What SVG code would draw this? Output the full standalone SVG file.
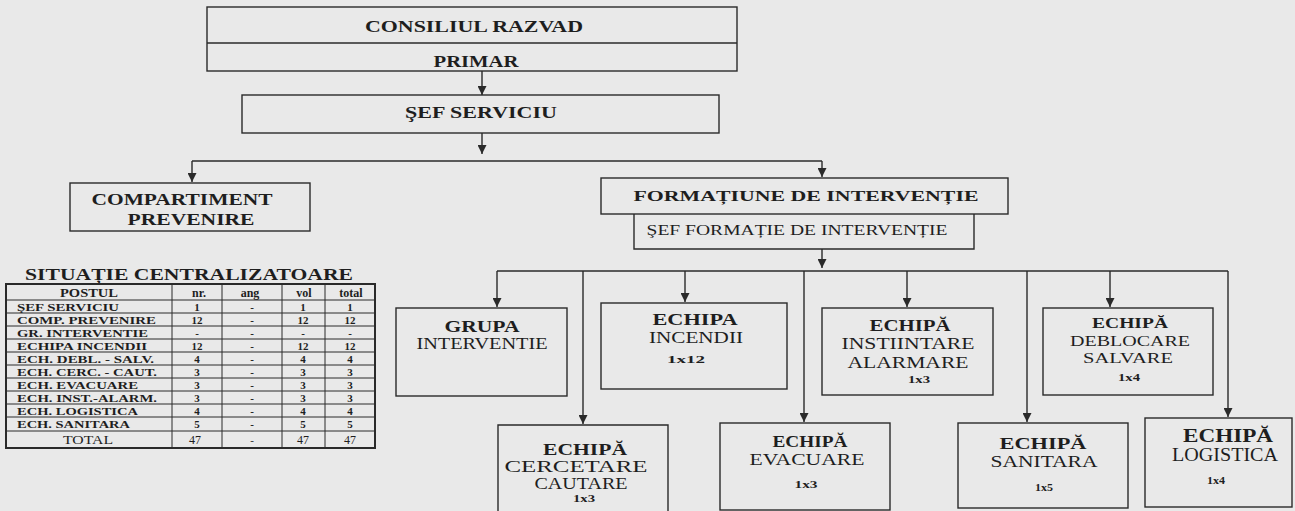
<svg xmlns="http://www.w3.org/2000/svg" width="1295" height="511" viewBox="0 0 1295 511" font-family="'Times New Roman', 'Liberation Serif', 'DejaVu Serif', serif">
<style>
  .bg { fill: #e9e9e9; }
  .box { fill: none; stroke: #2a2a2a; stroke-width: 1.4; }
  .con { fill: none; stroke: #2a2a2a; stroke-width: 1.4; }
  text { font-family: 'Times New Roman', 'Liberation Serif', 'DejaVu Serif', serif; fill: #1e1e1e; text-anchor: middle; }
  .b { font-weight: bold; }
  .sm { font-size: 11px; font-weight: bold; }
  .tl { text-anchor: start; }
  .grid { stroke: #2a2a2a; stroke-width: 1; fill: none; }
</style>
<defs>
  <marker id="arr" viewBox="0 0 10 10" refX="10" refY="5" markerWidth="9" markerHeight="9" markerUnits="userSpaceOnUse" orient="auto">
    <path d="M0,0 L10,5 L0,10 z" fill="#2a2a2a"/>
  </marker>
</defs>
<rect class="bg" x="0" y="0" width="1295" height="511"/>

<g id="connectors">
  <path class="con" d="M482,71 V95" marker-end="url(#arr)"/>
  <path class="con" d="M482,133 V154" marker-end="url(#arr)"/>
  <path class="con" d="M192,161 H822"/>
  <path class="con" d="M192,161 V182" marker-end="url(#arr)"/>
  <path class="con" d="M822,161 V177" marker-end="url(#arr)"/>
  <path class="con" d="M822,249 V268" marker-end="url(#arr)"/>
  <path class="con" d="M497,271 H1228"/>
  <path class="con" d="M497,271 V307" marker-end="url(#arr)"/>
  <path class="con" d="M583,271 V424" marker-end="url(#arr)"/>
  <path class="con" d="M685,271 V302" marker-end="url(#arr)"/>
  <path class="con" d="M804,271 V422" marker-end="url(#arr)"/>
  <path class="con" d="M907,271 V307" marker-end="url(#arr)"/>
  <path class="con" d="M1027,271 V422" marker-end="url(#arr)"/>
  <path class="con" d="M1110,271 V307" marker-end="url(#arr)"/>
  <path class="con" d="M1228,271 V417" marker-end="url(#arr)"/>
</g>

<g id="consiliul">
  <rect class="box" x="207" y="7" width="530" height="64"/>
  <line class="con" x1="207" y1="43" x2="737" y2="43"/>
  <text class="b" x="474" y="32" font-size="17" textLength="218" lengthAdjust="spacingAndGlyphs">CONSILIUL RAZVAD</text>
  <text class="b" x="476" y="67" font-size="17" textLength="85" lengthAdjust="spacingAndGlyphs">PRIMAR</text>
</g>

<g id="sef-serviciu">
  <rect class="box" x="242" y="95" width="477" height="38"/>
  <text class="b" x="481" y="118" font-size="17" textLength="152" lengthAdjust="spacingAndGlyphs">ŞEF SERVICIU</text>
</g>

<g id="compartiment">
  <rect class="box" x="70" y="183" width="240" height="48"/>
  <text class="b" x="182" y="205" font-size="17" textLength="181" lengthAdjust="spacingAndGlyphs">COMPARTIMENT</text>
  <text class="b" x="191" y="225" font-size="17" textLength="127" lengthAdjust="spacingAndGlyphs">PREVENIRE</text>
</g>

<g id="formatiune">
  <rect class="box" x="601" y="178" width="407" height="36"/>
  <text class="b" x="806" y="201" font-size="15" textLength="345" lengthAdjust="spacingAndGlyphs">FORMAȚIUNE DE INTERVENȚIE</text>
</g>

<g id="sef-formatie">
  <path class="box" d="M634,214 V249 H974 V214"/>
  <text x="797" y="235" font-size="15" textLength="301" lengthAdjust="spacingAndGlyphs">ŞEF FORMAȚIE DE INTERVENȚIE</text>
</g>

<g id="grupa">
  <rect class="box" x="396" y="308" width="171" height="88"/>
  <text class="b" x="482" y="332" font-size="16" textLength="75" lengthAdjust="spacingAndGlyphs">GRUPA</text>
  <text x="482" y="349" font-size="16" textLength="131" lengthAdjust="spacingAndGlyphs">INTERVENTIE</text>
</g>

<g id="incendii">
  <rect class="box" x="601" y="303" width="186" height="86"/>
  <text class="b" x="695" y="325" font-size="17" textLength="85" lengthAdjust="spacingAndGlyphs">ECHIPA</text>
  <text x="696" y="343" font-size="17" textLength="94" lengthAdjust="spacingAndGlyphs">INCENDII</text>
  <text class="sm" x="686" y="363" textLength="38" lengthAdjust="spacingAndGlyphs">1x12</text>
</g>

<g id="instiintare">
  <rect class="box" x="822" y="308" width="171" height="87"/>
  <text class="b" x="910" y="331" font-size="16" textLength="81" lengthAdjust="spacingAndGlyphs">ECHIPĂ</text>
  <text x="908" y="349" font-size="16" textLength="133" lengthAdjust="spacingAndGlyphs">INSTIINTARE</text>
  <text x="908" y="368" font-size="16" textLength="121" lengthAdjust="spacingAndGlyphs">ALARMARE</text>
  <text class="sm" x="919" y="383" textLength="22" lengthAdjust="spacingAndGlyphs">1x3</text>
</g>

<g id="deblocare">
  <rect class="box" x="1043" y="308" width="170" height="87"/>
  <text class="b" x="1130" y="328" font-size="15" textLength="76" lengthAdjust="spacingAndGlyphs">ECHIPĂ</text>
  <text x="1130" y="346" font-size="15" textLength="120" lengthAdjust="spacingAndGlyphs">DEBLOCARE</text>
  <text x="1128" y="363" font-size="15" textLength="90" lengthAdjust="spacingAndGlyphs">SALVARE</text>
  <text class="sm" x="1129" y="381" textLength="22" lengthAdjust="spacingAndGlyphs">1x4</text>
</g>

<g id="cercetare">
  <path class="box" d="M498,515 V425 H668 V515"/>
  <text class="b" x="585" y="455" font-size="17" textLength="84" lengthAdjust="spacingAndGlyphs">ECHIPĂ</text>
  <text x="576" y="472" font-size="17" textLength="143" lengthAdjust="spacingAndGlyphs">CERCETARE</text>
  <text x="581" y="489" font-size="17" textLength="93" lengthAdjust="spacingAndGlyphs">CAUTARE</text>
  <text class="sm" x="584" y="502" font-size="10" textLength="22" lengthAdjust="spacingAndGlyphs">1x3</text>
</g>

<g id="evacuare">
  <rect class="box" x="720" y="423" width="170" height="87"/>
  <text class="b" x="810" y="447" font-size="17" textLength="75" lengthAdjust="spacingAndGlyphs">ECHIPĂ</text>
  <text x="807" y="465" font-size="17" textLength="115" lengthAdjust="spacingAndGlyphs">EVACUARE</text>
  <text class="sm" x="806" y="488" textLength="23" lengthAdjust="spacingAndGlyphs">1x3</text>
</g>

<g id="sanitara">
  <rect class="box" x="958" y="423" width="170" height="85"/>
  <text class="b" x="1043" y="449" font-size="17" textLength="87" lengthAdjust="spacingAndGlyphs">ECHIPĂ</text>
  <text x="1044" y="467" font-size="17" textLength="107" lengthAdjust="spacingAndGlyphs">SANITARA</text>
  <text class="sm" x="1044" y="491" textLength="18" lengthAdjust="spacingAndGlyphs">1x5</text>
</g>

<g id="logistica">
  <rect class="box" x="1145" y="418" width="147" height="89"/>
  <text class="b" x="1228" y="442" font-size="18" textLength="90" lengthAdjust="spacingAndGlyphs">ECHIPĂ</text>
  <text x="1225" y="461" font-size="18" textLength="106" lengthAdjust="spacingAndGlyphs">LOGISTICA</text>
  <text class="sm" x="1216" y="484" textLength="18" lengthAdjust="spacingAndGlyphs">1x4</text>
</g>

<g id="situatie-table">
  <text class="b" x="189" y="280" font-size="17" textLength="328" lengthAdjust="spacingAndGlyphs">SITUAȚIE CENTRALIZATOARE</text>
  <rect x="6" y="284" width="369" height="164" fill="none" stroke="#2a2a2a" stroke-width="2"/>
  <path class="grid" d="M6,300 H375 M6,313 H375 M6,326 H375 M6,339 H375 M6,352 H375 M6,365 H375 M6,378 H375 M6,391 H375 M6,404 H375 M6,417 H375 M6,431 H375"/>
  <path class="grid" d="M172,284 V448 M222,284 V448 M282,284 V448 M325,284 V448"/>
  <g font-size="12" font-weight="bold">
    <text x="89" y="297" textLength="58" lengthAdjust="spacingAndGlyphs">POSTUL</text>
    <text x="199" y="297">nr.</text>
    <text x="250" y="297">ang</text>
    <text x="304" y="297">vol</text>
    <text x="351" y="297">total</text>
  </g>
  <g font-size="11" font-weight="bold">
    <text class="tl" x="17" y="311" textLength="102" lengthAdjust="spacingAndGlyphs">ŞEF SERVICIU</text>
    <text class="tl" x="17" y="324" textLength="139" lengthAdjust="spacingAndGlyphs">COMP. PREVENIRE</text>
    <text class="tl" x="17" y="337" textLength="131" lengthAdjust="spacingAndGlyphs">GR. INTERVENTIE</text>
    <text class="tl" x="17" y="350" textLength="130" lengthAdjust="spacingAndGlyphs">ECHIPA INCENDII</text>
    <text class="tl" x="17" y="363" textLength="137" lengthAdjust="spacingAndGlyphs">ECH. DEBL. - SALV.</text>
    <text class="tl" x="17" y="376" textLength="140" lengthAdjust="spacingAndGlyphs">ECH. CERC. - CAUT.</text>
    <text class="tl" x="17" y="389" textLength="121" lengthAdjust="spacingAndGlyphs">ECH. EVACUARE</text>
    <text class="tl" x="17" y="402" textLength="140" lengthAdjust="spacingAndGlyphs">ECH. INST.-ALARM.</text>
    <text class="tl" x="17" y="415" textLength="121" lengthAdjust="spacingAndGlyphs">ECH. LOGISTICA</text>
    <text class="tl" x="17" y="428" textLength="113" lengthAdjust="spacingAndGlyphs">ECH. SANITARA</text>
    <text x="88" y="444" font-weight="normal" font-size="12" textLength="50" lengthAdjust="spacingAndGlyphs">TOTAL</text>

    <text x="197" y="311">1</text><text x="252" y="311">-</text><text x="303" y="311">1</text><text x="350" y="311">1</text>
    <text x="197" y="324">12</text><text x="252" y="324">-</text><text x="303" y="324">12</text><text x="350" y="324">12</text>
    <text x="197" y="337">-</text><text x="252" y="337">-</text><text x="303" y="337">-</text><text x="350" y="337">-</text>
    <text x="197" y="350">12</text><text x="252" y="350">-</text><text x="303" y="350">12</text><text x="350" y="350">12</text>
    <text x="197" y="363">4</text><text x="252" y="363">-</text><text x="303" y="363">4</text><text x="350" y="363">4</text>
    <text x="197" y="376">3</text><text x="252" y="376">-</text><text x="303" y="376">3</text><text x="350" y="376">3</text>
    <text x="197" y="389">3</text><text x="252" y="389">-</text><text x="303" y="389">3</text><text x="350" y="389">3</text>
    <text x="197" y="402">3</text><text x="252" y="402">-</text><text x="303" y="402">3</text><text x="350" y="402">3</text>
    <text x="197" y="415">4</text><text x="252" y="415">-</text><text x="303" y="415">4</text><text x="350" y="415">4</text>
    <text x="197" y="428">5</text><text x="252" y="428">-</text><text x="303" y="428">5</text><text x="350" y="428">5</text>
    <text x="195" y="444" font-size="12" font-weight="normal">47</text><text x="252" y="444" font-weight="normal">-</text><text x="303" y="444" font-size="12" font-weight="normal">47</text><text x="350" y="444" font-size="12" font-weight="normal">47</text>
  </g>
</g>
</svg>
